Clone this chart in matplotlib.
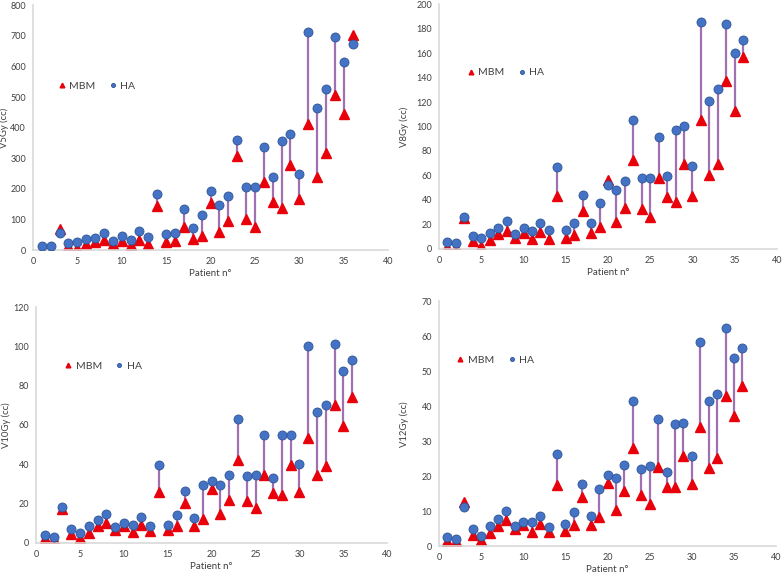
import matplotlib
matplotlib.use("Agg")
import matplotlib.pyplot as plt
import numpy as np

plt.rcParams["font.family"] = ["Lato", "DejaVu Sans"]

patients = np.arange(1, 37)

v5_mbm = [1, 1, 70, 13, 6, 21, 27, 34, 20, 29, 17, 33, 20, 144, 25, 31, 77, 36,
          45, 153, 60, 94, 307, 101, 75, 221, 156, 137, 278, 166, 413, 239, 316,
          508, 446, 703]
v5_ha = [12, 12, 55, 24, 27, 35, 39, 57, 29, 47, 34, 61, 44, 182, 53, 56, 134, 71,
         114, 194, 147, 177, 361, 205, 205, 336, 238, 357, 380, 247, 712, 463, 526,
         696, 614, 672]

v8_mbm = [1.4, 1.4, 25.3, 6.5, 2.7, 7.6, 12, 14.7, 8.7, 12.8, 7.9, 13.9, 8.4, 43.5,
          9.3, 11.7, 30.7, 12.8, 17.7, 56.3, 22, 33.2, 72.7, 32.7, 26.4, 57.7, 42.2,
          38.6, 69.4, 43, 105.6, 60, 69.4, 137, 113, 157]
v8_ha = [5.4, 4.6, 25.9, 10.6, 9.3, 13, 17, 23, 12, 17, 14.4, 21, 15.5, 67, 15.5,
         21.5, 44.4, 21.5, 37.6, 52, 48, 55.8, 105.6, 57.7, 58.2, 91.4, 59.6, 97.4,
         100.4, 68, 185, 120.8, 131, 183.4, 160, 171]

v10_mbm = [2.2, 1.7, 17.1, 4.6, 2.5, 5.1, 8.3, 10.2, 6.3, 8.6, 5.6, 9, 5.9, 25.9,
           6.3, 8.8, 20.2, 8.6, 11.9, 27.5, 14.6, 22, 42.4, 21.2, 17.6, 34.6, 25.4,
           24.4, 39.8, 26.1, 53.2, 34.6, 39.3, 70.2, 59.5, 74.2]
v10_ha = [3.9, 2.7, 18, 6.8, 5.1, 8.6, 11.4, 14.9, 8.1, 10.3, 9.2, 13, 8.6, 39.5,
          9.3, 13.9, 26.3, 12.7, 29.2, 31.4, 29.5, 34.4, 63, 34.1, 34.7, 55.1, 33.2,
          55.1, 55.1, 40, 100.2, 66.4, 70.3, 101.2, 87.5, 93.2]

v12_mbm = [1.6, 1.5, 12.6, 3.3, 1.8, 3.7, 5.9, 7.4, 4.9, 6, 4.1, 6.3, 4, 17.5, 4.4,
           6.1, 14.2, 6.2, 8.5, 18.1, 10.5, 15.8, 28.2, 14.6, 12, 22.7, 17, 16.8,
           25.9, 17.9, 34.1, 22.4, 25.2, 43, 37.2, 45.9]
v12_ha = [2.7, 2, 11.2, 4.8, 3, 5.9, 7.8, 10.2, 5.9, 6.8, 6.8, 8.7, 5.4, 26.4, 6.4,
          9.8, 17.7, 8.6, 16.5, 20.4, 19.6, 23.1, 41.5, 22.2, 22.9, 36.3, 21.1, 34.8,
          35.1, 25.8, 58.5, 41.5, 43.4, 62.5, 53.9, 56.6]

RED = "#E8000B"
BLUE = "#4472C4"
LINE = "#A070B0"
GRID = "#D9D9D9"
TXT = "#404040"


def draw_panel(ax, mbm, ha, ylabel, ymax, ystep, leg_anchor, ylab_x):
    ax.vlines(patients, mbm, ha, color=LINE, lw=1.6, zorder=1)
    ax.plot(patients, mbm, "^", color=RED, ms=7.5, mec=RED, label="MBM", zorder=2)
    ax.plot(patients, ha, "o", color=BLUE, ms=6.5, mec="#2F5597", mew=0.6,
            label="HA", zorder=3)

    ax.set_xlim(0, 40)
    ax.set_ylim(0, ymax)
    ax.set_xticks(range(0, 41, 5))
    ax.set_yticks(np.arange(0, ymax + 1, ystep))

    for s in ["top", "right"]:
        ax.spines[s].set_visible(False)
    for s in ["left", "bottom"]:
        ax.spines[s].set_color(GRID)
        ax.spines[s].set_linewidth(1.2)
    ax.tick_params(length=0, labelsize=6.5, labelcolor=TXT, pad=5)

    ax.set_xlabel("Patient n°", fontsize=7, color=TXT, labelpad=2)
    ax.set_ylabel(ylabel, fontsize=6.8, color=TXT)
    ax.yaxis.set_label_coords(ylab_x, 0.5)

    ax.legend(loc="center left", bbox_to_anchor=leg_anchor, ncol=2, frameon=False,
              fontsize=7.5, markerscale=0.45, handletextpad=0.2, columnspacing=1.2,
              handlelength=1.0, labelcolor=TXT)


fig = plt.figure(figsize=(7.84, 5.75), dpi=100)

ax1 = fig.add_axes([0.042, 0.565, 0.453, 0.426])
ax2 = fig.add_axes([0.560, 0.567, 0.431, 0.426])
ax3 = fig.add_axes([0.046, 0.056, 0.448, 0.410])
ax4 = fig.add_axes([0.560, 0.050, 0.430, 0.426])

draw_panel(ax1, v5_mbm, v5_ha, "V5Gy (cc)", 800, 100, (0.04, 0.67), -0.066)
draw_panel(ax2, v8_mbm, v8_ha, "V8Gy (cc)", 200, 20, (0.05, 0.72), -0.09)
draw_panel(ax3, v10_mbm, v10_ha, "V10Gy (cc)", 120, 20, (0.05, 0.75), -0.071)
draw_panel(ax4, v12_mbm, v12_ha, "V12Gy (cc)", 70, 10, (0.02, 0.76), -0.09)

fig.savefig("out.png", dpi=100)
